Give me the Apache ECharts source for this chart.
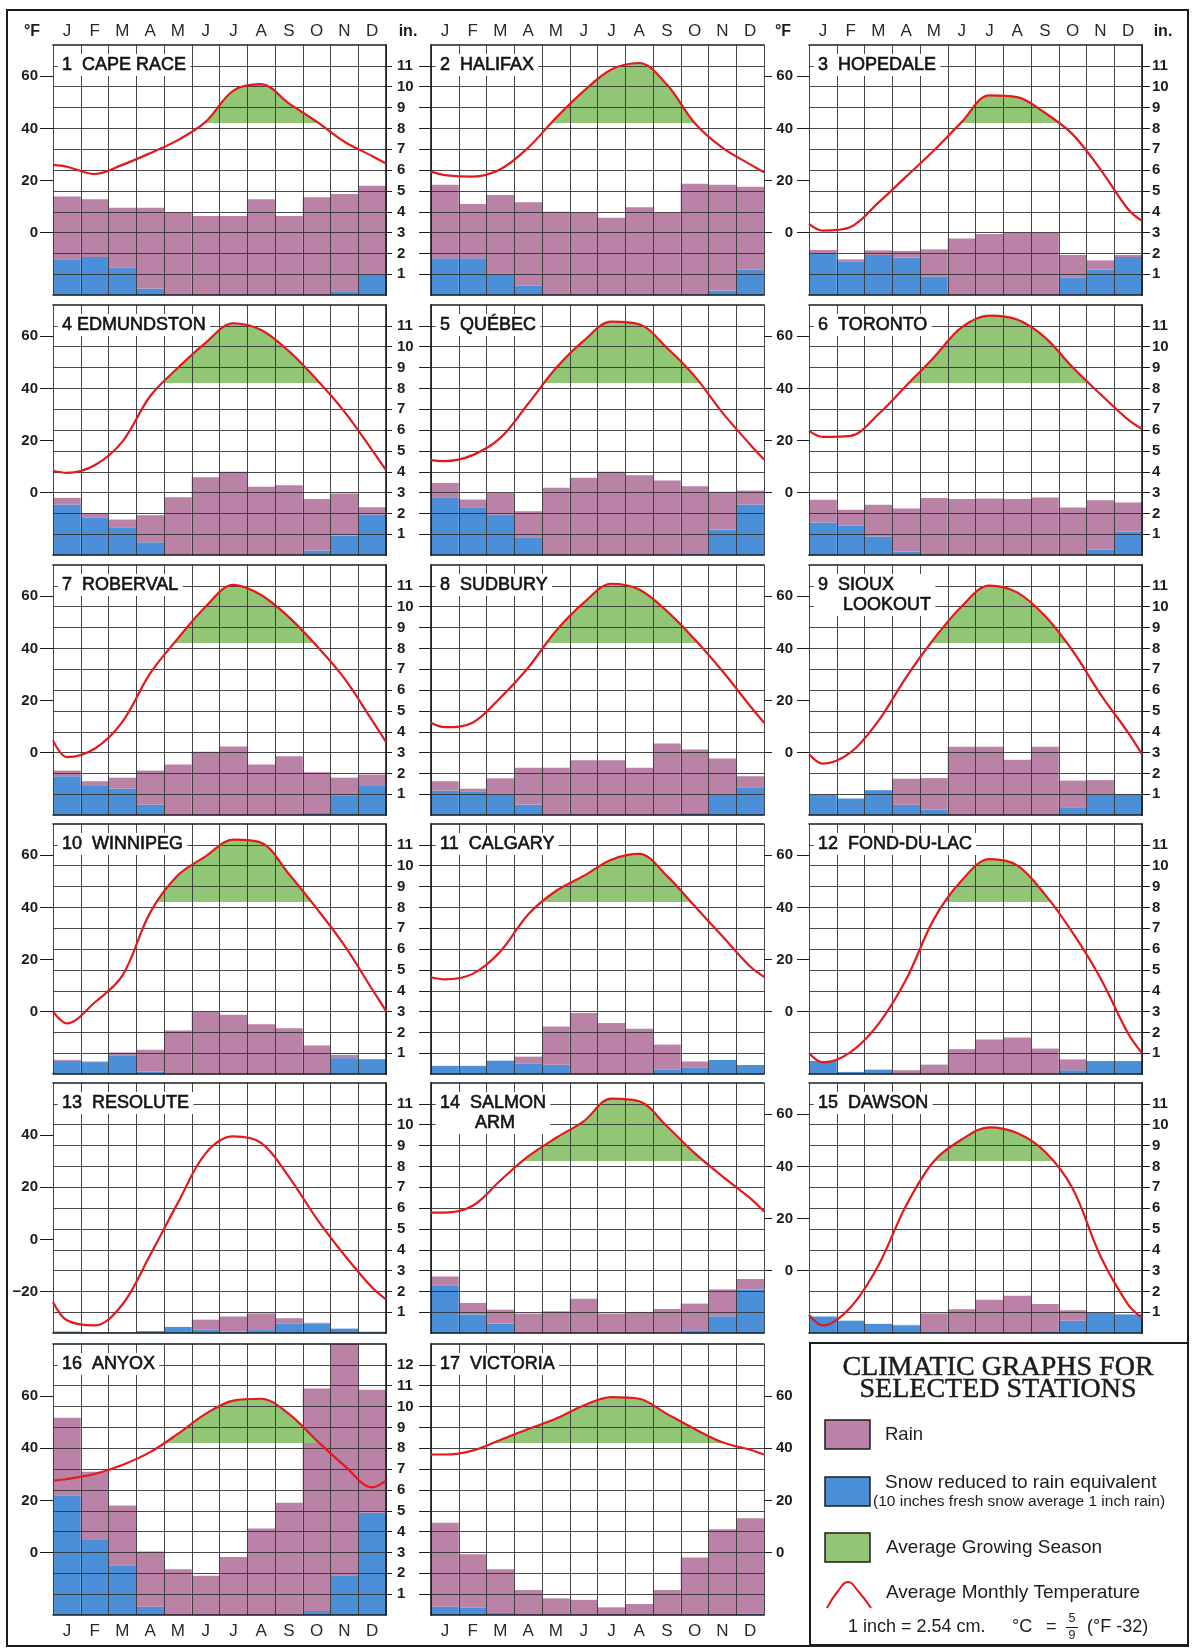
<!DOCTYPE html>
<html><head><meta charset="utf-8">
<script src="https://cdn.jsdelivr.net/npm/echarts@6/dist/echarts.min.js"></script>
<style>html,body{margin:0;padding:0;background:#fff}#c{width:1201px;height:1648px}</style>
</head><body><div id="c"></div>
<script>
// ---------------- DATA (inches of precipitation, °F) ----------------
const months = ['J','F','M','A','M','J','J','A','S','O','N','D'];
// temperature curve: value at left edge, 12 monthly values, value at right edge
const tempX = [0].concat(months.map((m, i) => i + 0.5), [12]);

const stationNames = ['1  CAPE RACE','2  HALIFAX','3  HOPEDALE','4 EDMUNDSTON','5  QUÉBEC','6  TORONTO',
  '7  ROBERVAL','8  SUDBURY','9  SIOUX\n     LOOKOUT','10  WINNIPEG','11  CALGARY','12  FOND-DU-LAC',
  '13  RESOLUTE','14  SALMON\n       ARM','15  DAWSON','16  ANYOX','17  VICTORIA'];

const capeRaceSnow = [1.72,1.83,1.32,0.32,0,0,0,0,0,0,0.19,1.0];
const capeRaceRain = [3.01,2.77,2.88,3.88,3.96,3.8,3.8,4.6,3.8,4.7,4.66,4.25];
const capeRaceTemp = [26,25.3,22.5,26,30.5,35.5,42.5,54.5,57,49.6,42.6,34.9,29.4,26.5];

const halifaxSnow = [1.77,1.77,1.05,0.45,0,0,0,0,0,0,0.22,1.24];
const halifaxRain = [3.53,2.6,3.75,4.01,4.0,3.98,3.72,4.22,3.96,5.35,5.08,3.96];
const halifaxTemp = [23.4,22.1,21.5,24.3,32.6,44,54.3,62.6,65.1,56.8,42.1,32.6,26.2,23.2];

const hopedaleSnow = [2.0,1.6,1.93,1.8,0.9,0,0,0,0,0.83,1.23,1.83];
const hopedaleRain = [0.17,0.12,0.22,0.32,1.3,2.72,2.93,3.0,3.0,1.1,0.44,0.1];
const hopedaleTemp = [3.4,0.8,2.2,11.5,21.5,31.5,42.4,52.7,52,46,37.7,24.3,9,4.5];

const edmundstonSnow = [2.43,1.79,1.34,0.62,0,0,0,0,0,0.22,0.94,1.95];
const edmundstonRain = [0.32,0.21,0.37,1.3,2.78,3.74,4.0,3.28,3.36,2.48,2.02,0.35];
const edmundstonTemp = [8.4,7.6,10.5,19.6,37,47.9,57.5,65,62.4,54.3,43.4,31.1,16.3,8.6];

const quebecSnow = [2.78,2.27,1.95,0.83,0,0,0,0,0,0.06,1.23,2.43];
const quebecRain = [0.69,0.4,1.03,1.28,3.23,3.71,4.0,3.84,3.58,3.25,1.81,0.67];
const quebecTemp = [12.5,12.1,14.4,21,34.1,47.7,58.2,65.6,64.6,55.6,44.7,30.7,18.5,12.7];

const torontoSnow = [1.57,1.41,0.9,0.16,0,0,0,0,0,0,0.26,1.14];
const torontoRain = [1.09,0.77,1.52,2.08,2.74,2.69,2.72,2.69,2.77,2.29,2.38,1.39];
const torontoTemp = [23.7,21.4,21.8,30.1,41,51.9,63.4,67.9,66.4,59.6,48.1,37.8,28,24.4];

const robervalSnow = [1.87,1.44,1.28,0.51,0,0,0,0,0,0.11,0.96,1.44];
const robervalRain = [0.27,0.19,0.52,1.63,2.43,3.04,3.3,2.43,2.83,1.95,0.84,0.51];
const robervalTemp = [4.7,-1.7,1.5,11.8,30.4,43.8,56,64.4,60.5,52,41,28.5,12.4,4.1];

const sudburySnow = [1.18,1.12,1.02,0.51,0,0,0,0,0,0.11,0.99,1.34];
const sudburyRain = [0.45,0.15,0.75,1.76,2.27,2.64,2.64,2.27,3.44,3.04,1.73,0.53];
const sudburyTemp = [11.5,9.8,11.5,21.1,32.6,46.7,57.5,64.8,62.6,54.3,43.5,31.3,17.9,11.5];

const siouxLookoutSnow = [0.99,0.8,1.2,0.5,0.27,0,0,0,0,0.35,0.99,1.0];
const siouxLookoutRain = [0,0,0,1.25,1.51,3.28,3.28,2.66,3.28,1.31,0.69,0];
const siouxLookoutTemp = [-0.6,-4.2,0.1,12.2,28.9,43.6,56.1,64.1,61.5,52.5,39.1,22.5,7.7,-0.6];

const winnipegSnow = [0.64,0.58,0.88,0.13,0,0,0,0,0,0.05,0.77,0.72];
const winnipegRain = [0.05,0.03,0.16,1.04,2.1,2.98,2.85,2.4,2.2,1.33,0.16,0];
const winnipegTemp = [0,-4.5,3.5,13.8,38,52.3,59.6,66,64.8,52.8,39.6,25.4,8.6,0.3];

const calgarySnow = [0.4,0.4,0.65,0.52,0.45,0,0,0,0.21,0.33,0.68,0.44];
const calgaryRain = [0,0,0,0.32,1.84,2.94,2.45,2.18,1.21,0.28,0,0];
const calgaryTemp = [13.2,12.4,14.5,23.1,37.3,46.3,52.1,58.3,60.5,52.1,40.5,28.9,17.3,13.4];

const fondDuLacSnow = [0.64,0.11,0.22,0,0,0,0,0,0,0.19,0.63,0.63];
const fondDuLacRain = [0,0,0,0.19,0.46,1.2,1.66,1.76,1.23,0.52,0,0];
const fondDuLacTemp = [-15.9,-19.5,-15.5,-4.8,12.3,35.5,50.3,58.5,56.1,45,30.3,12.9,-8.4,-15.9];

const resoluteSnow = [0.08,0.05,0.05,0.1,0.3,0.18,0.08,0.15,0.45,0.45,0.22,0.07];
const resoluteRain = [0,0,0,0,0,0.47,0.72,0.8,0.27,0.05,0,0];
const resoluteTemp = [-24,-31,-33,-25,-6,14,33,39.5,37,24,8,-6,-18.5,-23];

const salmonArmSnow = [2.3,0.9,0.46,0,0,0,0,0,0,0.14,0.81,2.1];
const salmonArmRain = [0.42,0.55,0.67,0.94,1.05,1.65,0.94,1.02,1.16,1.28,1.29,0.5];
const salmonArmTemp = [22.3,22.3,24.9,34.6,43.8,50.9,57.3,66,65,55.4,45.1,36.2,27.8,22.7];

const dawsonSnow = [0.8,0.6,0.45,0.35,0.05,0,0,0,0.1,0.6,1.0,0.9];
const dawsonRain = [0,0,0,0.05,0.9,1.15,1.6,1.8,1.3,0.5,0,0];
const dawsonTemp = [-17,-21,-14,2,25,42,50.3,55,52.8,45.7,31.5,5.6,-13,-18];

const anyoxSnow = [5.74,3.6,2.39,0.4,0,0,0,0,0,0.2,1.91,4.91];
const anyoxRain = [3.72,3.27,2.87,2.65,2.2,1.88,2.79,4.15,5.39,10.66,11.09,5.9];
const anyoxTemp = [27.6,28.2,30.1,33.6,38.5,45.5,53.2,58.3,59,53.2,43,33.3,25,27.6];

const victoriaSnow = [0.4,0.37,0.1,0,0,0,0,0,0,0,0,0.08];
const victoriaRain = [4.03,2.55,2.1,1.2,0.8,0.73,0.37,0.53,1.2,2.76,4.11,4.56];
const victoriaTemp = [37.6,37.6,39.1,43.2,47.4,51.3,56.4,59.6,59,53.2,47.4,42.3,39.4,37.6];

// °F scale: axis minimum per station (1 inch = 8 °F), labelled °F ticks
const fahrenheitMin = [-24,-24,-24,-24,-24,-24,-24,-24,-24,-24,-24,-24,-36,-24,-24,-24,-24];
const fahrenheitTicksStd = [0,20,40,60];
const fahrenheitTicksResolute = [-20,0,20,40];
const growingThreshold = 42;

const snowSets = [capeRaceSnow,halifaxSnow,hopedaleSnow,edmundstonSnow,quebecSnow,torontoSnow,robervalSnow,
  sudburySnow,siouxLookoutSnow,winnipegSnow,calgarySnow,fondDuLacSnow,resoluteSnow,salmonArmSnow,dawsonSnow,anyoxSnow,victoriaSnow];
const rainSets = [capeRaceRain,halifaxRain,hopedaleRain,edmundstonRain,quebecRain,torontoRain,robervalRain,
  sudburyRain,siouxLookoutRain,winnipegRain,calgaryRain,fondDuLacRain,resoluteRain,salmonArmRain,dawsonRain,anyoxRain,victoriaRain];
const tempSets = [capeRaceTemp,halifaxTemp,hopedaleTemp,edmundstonTemp,quebecTemp,torontoTemp,robervalTemp,
  sudburyTemp,siouxLookoutTemp,winnipegTemp,calgaryTemp,fondDuLacTemp,resoluteTemp,salmonArmTemp,dawsonTemp,anyoxTemp,victoriaTemp];

// ---------------- LAYOUT / STYLE ----------------
const colLeft = [53, 431, 809];
const rowTop = [45, 305, 565, 824, 1083, 1344];
const plotW = 333;
const pxPerIn = 20.85;
const FONT = '"Liberation Sans", Arial, Helvetica, sans-serif';
const SERIF = '"Liberation Serif", "DejaVu Serif", Times, serif';
const RAIN = '#b982a6', SNOW = '#4a8fd8', GREEN = '#92c677', RED = '#e3191c';
const GRIDC = '#333333', INK = '#1c1c1c';
const SMOOTH = 0.35;

const grids = [], xAxes = [], yAxes = [], series = [], visualMaps = [], titles = [];

for (let k = 0; k < 17; k++) {
  const r = Math.floor(k / 3), c = k % 3;
  const inMax = r === 5 ? 13 : 12;
  grids.push({left: colLeft[c], top: rowTop[r], width: plotW, height: inMax * pxPerIn});
  const frame = {show: true, onZero: false, lineStyle: {color: INK, width: 1.6}};
  xAxes.push({type: 'category', gridIndex: k, data: months, boundaryGap: true, z: 10,
    position: r === 0 ? 'top' : 'bottom', axisLine: frame, axisTick: {show: false},
    axisLabel: {show: r === 0 || r === 5, interval: 0, margin: r === 0 ? 5 : 8, fontSize: 17,
      color: '#2a2a2a', fontFamily: FONT},
    splitLine: {show: true, interval: 0, lineStyle: {color: GRIDC, width: 0.9}}});
  xAxes.push({type: 'value', gridIndex: k, min: 0, max: 12, z: 10,
    position: r === 0 ? 'bottom' : 'top', axisLine: frame, axisTick: {show: false},
    axisLabel: {show: false}, splitLine: {show: false}});

  const inchTicks = [];
  for (let i = 1; i < inMax; i++) inchTicks.push(i);
  yAxes.push({type: 'value', gridIndex: k, min: 0, max: inMax, interval: 0.5, z: 10,
    position: c === 1 ? 'left' : 'right', axisLine: frame,
    axisTick: {show: true, customValues: inchTicks, length: c === 0 ? 6 : (c === 1 ? 12 : 8),
      lineStyle: {color: INK, width: 1}},
    axisLabel: {show: c !== 1, customValues: inchTicks, margin: c === 0 ? 11 : 10, fontSize: 15,
      fontWeight: 'bold', color: INK, fontFamily: FONT},
    splitLine: {show: true, lineStyle: {color: GRIDC, width: 0.9}}});

  const tMin = fahrenheitMin[k];
  const tTicks = k === 12 ? fahrenheitTicksResolute : fahrenheitTicksStd;
  yAxes.push({type: 'value', gridIndex: k, min: tMin, max: tMin + 8 * inMax, z: 10,
    position: c === 1 ? 'right' : 'left', axisLine: {show: false, onZero: false},
    axisTick: {show: true, customValues: tTicks, length: c === 0 ? 13 : (c === 1 ? 8 : 12),
      lineStyle: {color: INK, width: 1}},
    axisLabel: {show: c !== 1 || r === 5, customValues: tTicks,
      margin: c === 0 ? 15 : (c === 1 ? 12 : 16), fontSize: 15, fontWeight: 'bold', color: INK, fontFamily: FONT,
      formatter: v => v < 0 ? '\u2212' + Math.abs(v) : String(v)},
    splitLine: {show: false}});

  const common = {xAxisIndex: 2 * k, yAxisIndex: 2 * k, stack: 'p' + k, barWidth: '100%',
    barCategoryGap: '0%', silent: true};
  series.push(Object.assign({type: 'bar', name: 'snow' + k, data: snowSets[k], itemStyle: {color: SNOW}, z: 2}, common));
  series.push(Object.assign({type: 'bar', name: 'rain' + k, data: rainSets[k], itemStyle: {color: RAIN}, z: 2}, common));

  const lineData = tempSets[k].map((t, i) => [tempX[i], t]);
  const areaIdx = series.length;
  series.push({type: 'line', name: 'grow' + k, xAxisIndex: 2 * k + 1, yAxisIndex: 2 * k + 1, data: lineData,
    smooth: SMOOTH, symbol: 'none', silent: true, z: 3,
    lineStyle: {width: 0, color: 'rgba(0,0,0,0)'}, areaStyle: {opacity: 1, origin: 'start'}});
  visualMaps.push({type: 'piecewise', show: false, seriesIndex: areaIdx, dimension: 1,
    pieces: [{gte: growingThreshold, lte: 200, color: GREEN}], outOfRange: {color: 'rgba(0,0,0,0)'}});
  series.push({type: 'line', name: 'temp' + k, xAxisIndex: 2 * k + 1, yAxisIndex: 2 * k + 1, data: lineData,
    smooth: SMOOTH, symbol: 'none', silent: true, z: 20, lineStyle: {width: 2.2, color: RED}});

  titles.push({text: stationNames[k], left: colLeft[c] + 5, top: rowTop[r] + 9, padding: [1, 4, 1, 4],
    backgroundColor: '#fff', z: 30,
    textStyle: {fontSize: 18, fontWeight: 'normal', fontFamily: FONT, color: '#141414', lineHeight: 20,
      textBorderColor: '#141414', textBorderWidth: 0.6}});
}

function txt(x, y, s, size, opts) {
  return Object.assign({type: 'text', x: x, y: y, z: 50, silent: true,
    style: Object.assign({text: s, fontSize: size, fontFamily: FONT, fill: INK, align: 'left', verticalAlign: 'middle'}, opts || {})});
}
const graphics = [
  {type: 'rect', z: 45, silent: true, shape: {x: 7, y: 10, width: 1181, height: 1636}, style: {fill: 'none', stroke: INK, lineWidth: 2}},
  txt(32, 32, '°F', 16, {align: 'center', fontWeight: 'bold'}),
  txt(408, 32, 'in.', 16, {align: 'center', fontWeight: 'bold'}),
  txt(783, 32, '°F', 16, {align: 'center', fontWeight: 'bold'}),
  txt(1163, 32, 'in.', 16, {align: 'center', fontWeight: 'bold'}),
  {type: 'rect', z: 46, silent: true, shape: {x: 810, y: 1343, width: 378, height: 302}, style: {fill: '#fff', stroke: INK, lineWidth: 2}},
  txt(998, 1368, 'CLIMATIC GRAPHS FOR', 28, {align: 'center', fontFamily: SERIF, stroke: INK, lineWidth: 0.5}),
  txt(998, 1390, 'SELECTED STATIONS', 28, {align: 'center', fontFamily: SERIF, stroke: INK, lineWidth: 0.5}),
  {type: 'rect', z: 50, silent: true, shape: {x: 825, y: 1420, width: 45, height: 29}, style: {fill: RAIN, stroke: INK, lineWidth: 1.5}},
  {type: 'rect', z: 50, silent: true, shape: {x: 825, y: 1477, width: 45, height: 29}, style: {fill: SNOW, stroke: INK, lineWidth: 1.5}},
  {type: 'rect', z: 50, silent: true, shape: {x: 825, y: 1533, width: 45, height: 29}, style: {fill: GREEN, stroke: INK, lineWidth: 1.5}},
  {type: 'polyline', z: 50, silent: true, shape: {points: [[827, 1608], [838, 1591], [848, 1582], [858, 1591], [871, 1608]], smooth: 0.5},
    style: {fill: 'none', stroke: RED, lineWidth: 2}},
  txt(885, 1435, 'Rain', 18.5),
  txt(885, 1483, 'Snow reduced to rain equivalent', 19),
  txt(873, 1502, '(10 inches fresh snow average 1 inch rain)', 15.5),
  txt(886, 1548, 'Average Growing Season', 19),
  txt(886, 1593, 'Average Monthly Temperature', 19),
  txt(848, 1627, '1 inch = 2.54 cm.', 18),
  txt(1012, 1627, '°C', 18),
  txt(1046, 1627, '=', 18),
  txt(1072, 1619, '5', 12.5, {align: 'center'}),
  txt(1072, 1636, '9', 12.5, {align: 'center'}),
  {type: 'line', z: 50, silent: true, shape: {x1: 1066, y1: 1627.5, x2: 1078, y2: 1627.5}, style: {stroke: INK, lineWidth: 1}},
  txt(1087, 1627, '(°F -32)', 18)
];

const chart = echarts.init(document.getElementById('c'), null, {renderer: 'canvas'});
chart.setOption({
  animation: false,
  backgroundColor: '#fff',
  title: titles,
  grid: grids,
  xAxis: xAxes,
  yAxis: yAxes,
  visualMap: visualMaps,
  series: series,
  graphic: graphics
});
</script>
</body></html>
